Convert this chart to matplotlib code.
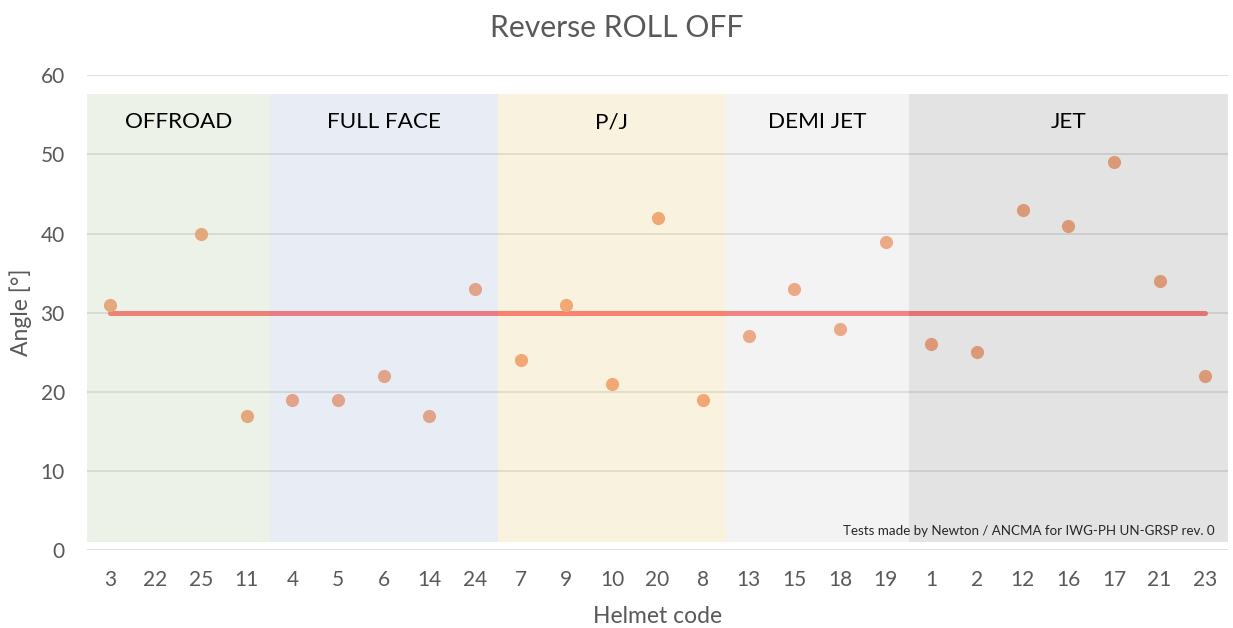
import numpy as np
import matplotlib
matplotlib.use("Agg")
import matplotlib.pyplot as plt
from matplotlib.patches import Rectangle

plt.rcParams['font.family'] = ['Lato', 'DejaVu Sans']

# ---- data ----
helmet_codes = ["3", "22", "25", "11", "4", "5", "6", "14", "24", "7", "9", "10", "20", "8",
                "13", "15", "18", "19", "1", "2", "12", "16", "17", "21", "23"]
angles = [31, np.nan, 40, 17, 19, 19, 22, 17, 33, 24, 31, 21, 42, 19,
          27, 33, 28, 39, 26, 25, 43, 41, 49, 34, 22]
threshold = [30] * len(helmet_codes)
group_names = ["OFFROAD", "FULL FACE", "P/J", "DEMI JET", "JET"]
group_sizes = [4, 5, 5, 4, 7]
y_ticks = [0, 10, 20, 30, 40, 50, 60]

# ---- styles ----
band_colors = [(195/255, 215/255, 178/255), (182/255, 198/255, 225/255),
               (238/255, 215/255, 152/255), (218/255, 218/255, 218/255),
               (165/255, 165/255, 165/255)]
band_alpha = 0.3
line_color = (1.0, 92/255, 92/255)
point_color = (244/255, 149/255, 101/255)
gray = "#595959"

fig = plt.figure(figsize=(12.33, 6.28), dpi=100)
ax = fig.add_axes([0.0706, 0.124, 0.9254, 0.756])

x = np.arange(len(helmet_codes))
ax.plot(x, threshold, color=line_color, lw=3.6, solid_capstyle='round', zorder=2)
ax.plot(x, angles, 'o', color=point_color, ms=9.5, mec='none', zorder=3)

# bands on top (semi-transparent)
start = 0
for name, size, c in zip(group_names, group_sizes, band_colors):
    left = start - 0.5
    ax.add_patch(Rectangle((left, 1.05), size, 57.7 - 1.05, facecolor=c, alpha=band_alpha,
                           edgecolor='none', zorder=4))
    ax.text(left + size / 2, 54.1, name, ha='center', va='center', fontsize=16.2,
            color='black', zorder=6)
    start += size

ax.set_xlim(-0.5, len(helmet_codes) - 0.5)
ax.set_ylim(0, 60)
ax.set_yticks(y_ticks)
ax.set_xticks(x)
ax.set_xticklabels(helmet_codes)
ax.grid(axis='y', color='#D9D9D9', lw=1.2, zorder=1)
ax.set_axisbelow(True)
for s in ax.spines.values():
    s.set_visible(False)
ax.tick_params(length=0, labelsize=15, colors=gray)
ax.tick_params(axis='x', pad=14)
ax.tick_params(axis='y', pad=16)

ax.set_xlabel("Helmet code", fontsize=16.5, color=gray, labelpad=12)
ax.set_ylabel("Angle [°]", fontsize=16.5, color=gray, labelpad=6)
fig.suptitle("Reverse ROLL OFF", fontsize=21.7, color=gray, y=0.978)

ax.text(0.988, 0.04, "Tests made by Newton / ANCMA for IWG-PH UN-GRSP rev. 0",
        transform=ax.transAxes, ha='right', va='center', fontsize=9.6, color='#262626', zorder=6)

fig.savefig("out.png", dpi=100)
